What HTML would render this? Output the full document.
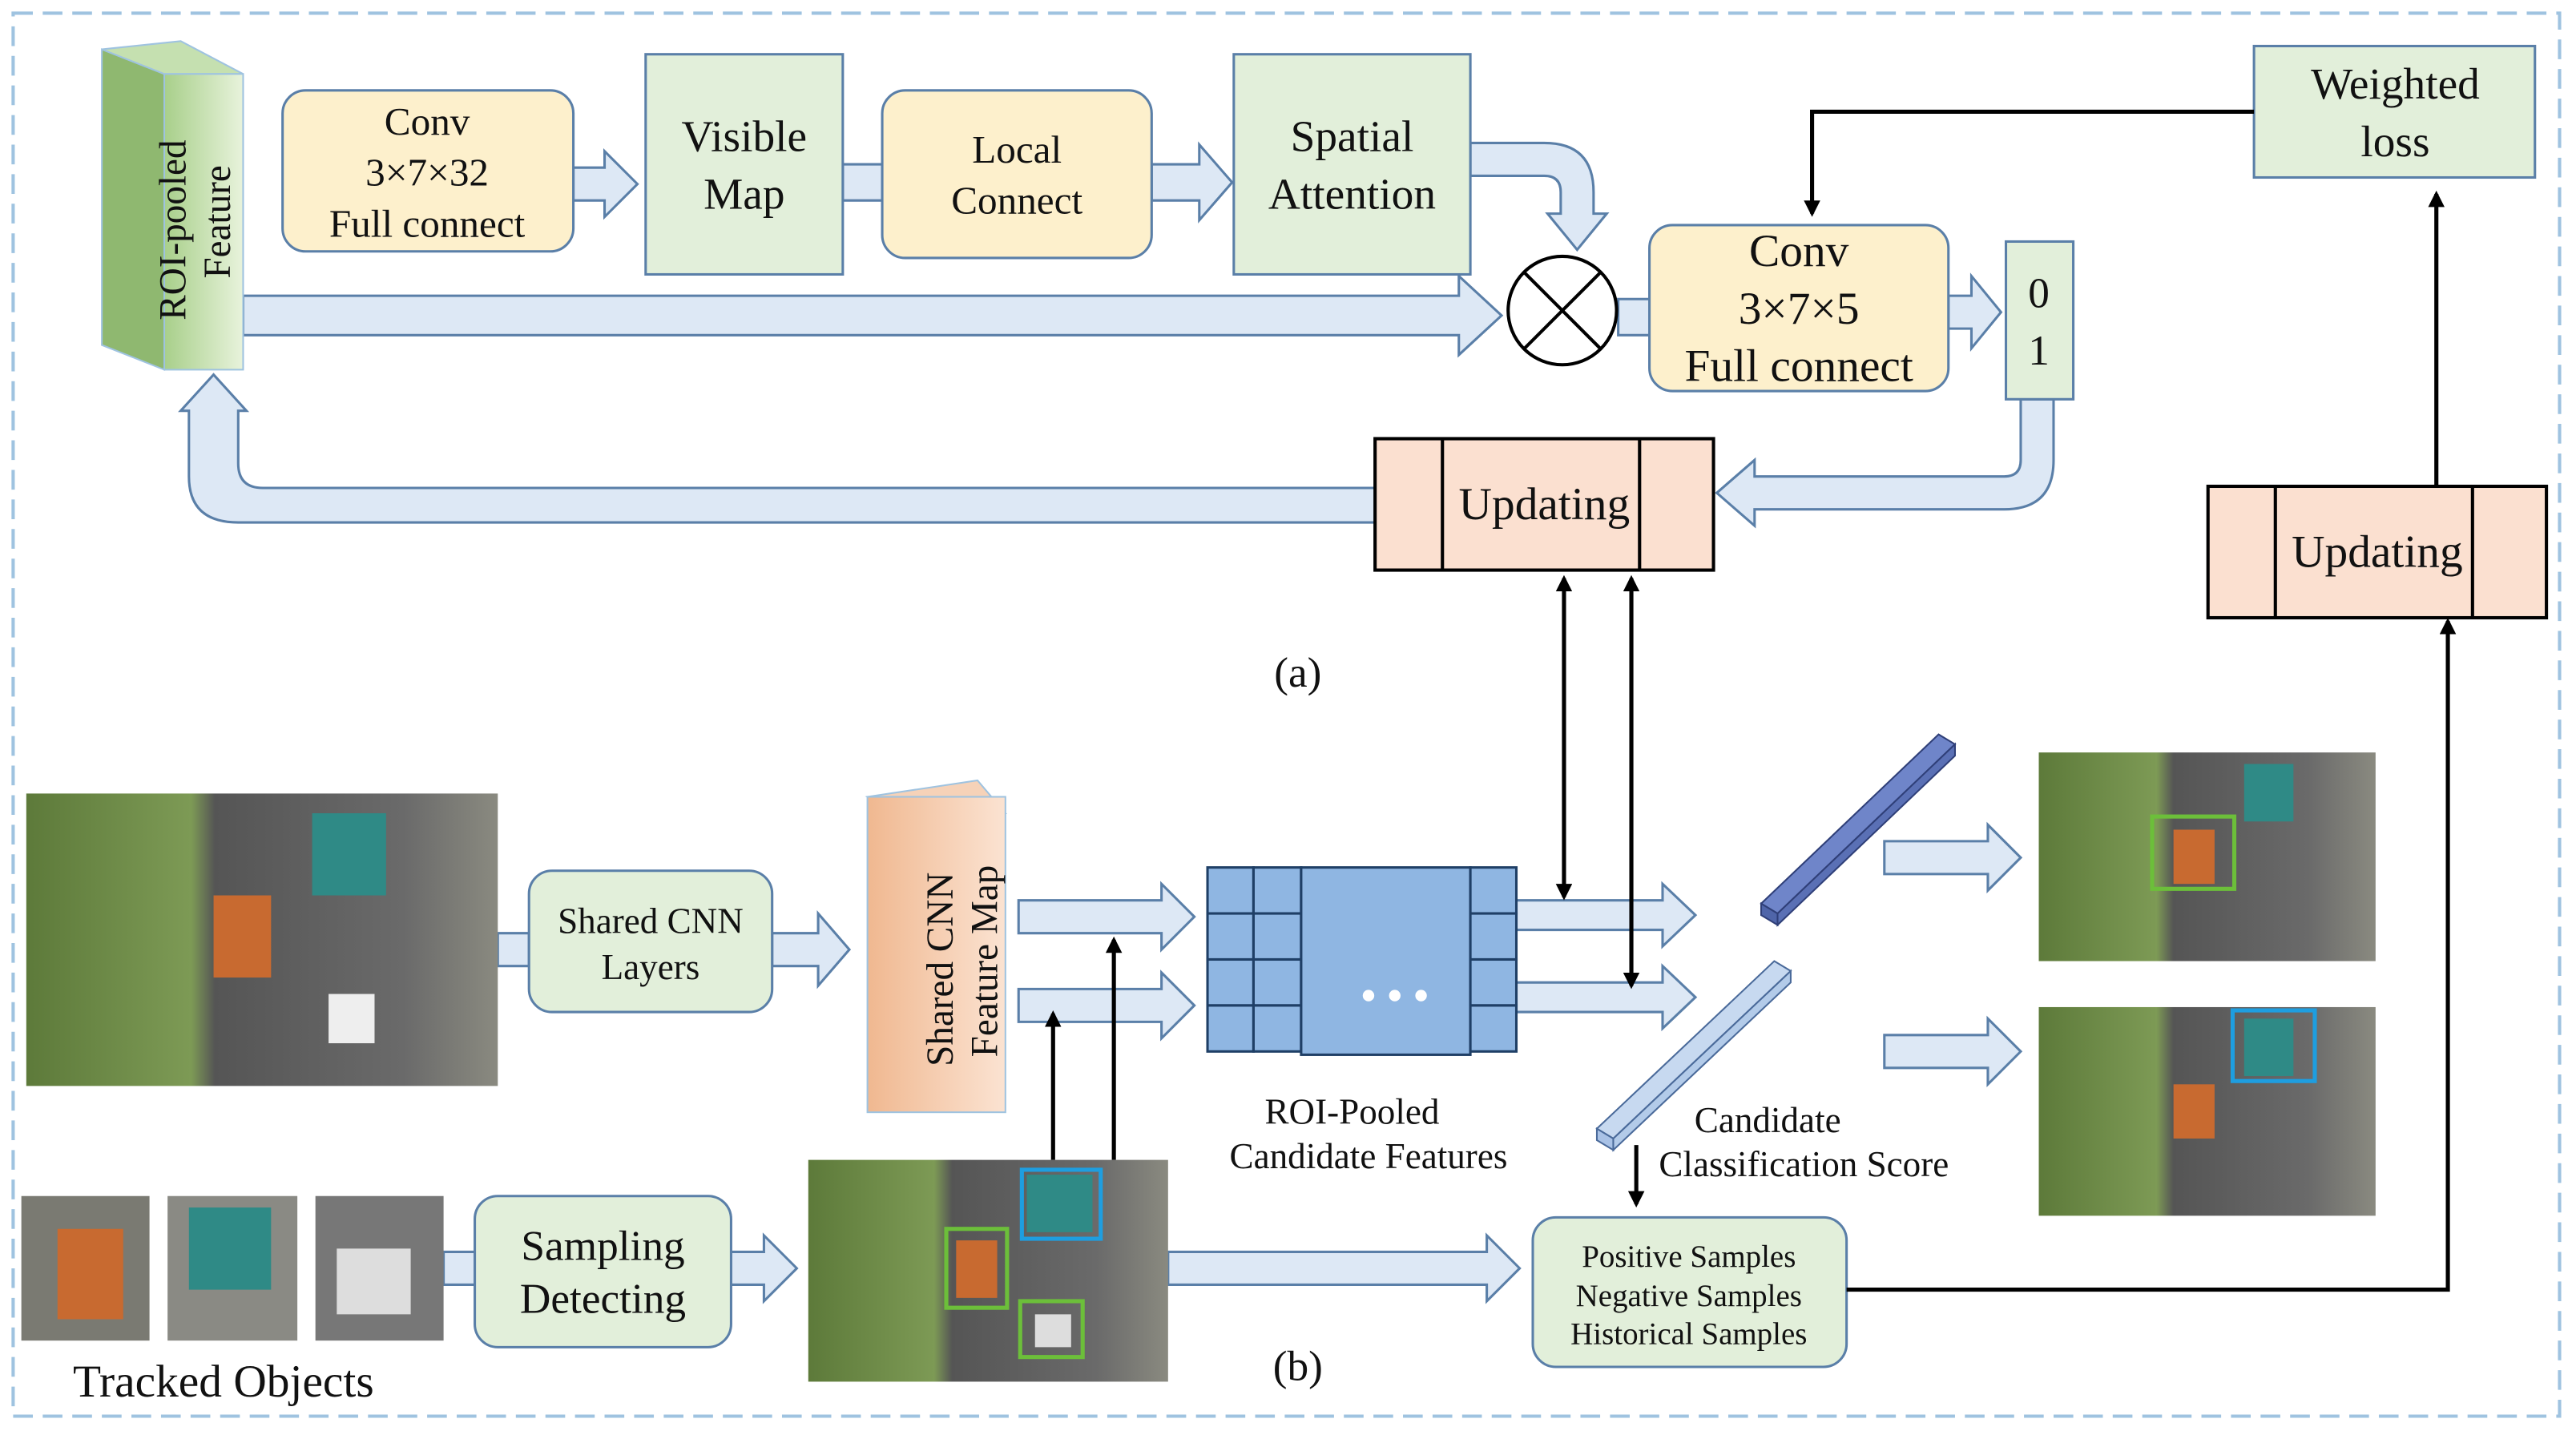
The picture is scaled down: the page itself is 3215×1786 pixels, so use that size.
<!DOCTYPE html>
<html><head><meta charset="utf-8"><style>
html,body{margin:0;padding:0;background:#fff;}
svg{display:block;}
text{font-family:"Liberation Serif",serif;fill:#111;}
</style></head><body>
<svg width="3215" height="1786" viewBox="0 0 1568 871" xmlns="http://www.w3.org/2000/svg">
<defs>
<linearGradient id="rg" x1="0" x2="1"><stop offset="0" stop-color="#a8cf8a"/><stop offset="1" stop-color="#e8f3dc"/></linearGradient>
<linearGradient id="pg" x1="0" x2="1"><stop offset="0" stop-color="#f0b890"/><stop offset="1" stop-color="#fbe3d2"/></linearGradient>
<linearGradient id="ph" x1="0" x2="1"><stop offset="0" stop-color="#5d7a3a"/><stop offset="0.35" stop-color="#7d9a55"/><stop offset="0.4" stop-color="#555"/><stop offset="0.8" stop-color="#6a6a6a"/><stop offset="1" stop-color="#8a8a80"/></linearGradient>
<marker id="ah" markerWidth="10" markerHeight="10" refX="8" refY="5" orient="auto-start-reverse" markerUnits="userSpaceOnUse"><path d="M0,0 L10,5 L0,10 z" fill="#000"/></marker>
</defs>
<rect x="0" y="0" width="1568" height="871" fill="#fff"/>
<rect x="8" y="8" width="1550" height="854" fill="none" stroke="#9fc3e0" stroke-width="2" stroke-dasharray="12,6"/>

<g fill="#dde8f5" stroke="#5a7fa8" stroke-width="1.5">
<polygon points="349,102 368,102 368,92 388,112 368,132 368,122 349,122"/>
<polygon points="513,100 537,100 537,122 513,122"/>
<polygon points="701,100 730,100 730,88 750,111 730,134 730,122 701,122"/>
<polygon points="148,180 888,180 888,168 914,192 888,216 888,204 148,204"/>
<path d="M895,87 L940,87 Q970,87 970,117 L970,130 L978,130 L960,152 L942,130 L950,130 L950,117 Q950,107 940,107 L895,107 Z"/>
<polygon points="985,182 1005,182 1005,204 985,204"/>
<polygon points="1186,180 1200,180 1200,168 1218,190 1200,212 1200,200 1186,200"/>
<path d="M1230,243 L1250,243 L1250,280 Q1250,310 1220,310 L1068,310 L1068,320 L1045,300 L1068,280 L1068,290 L1220,290 Q1230,290 1230,280 Z"/>
<path d="M837,297 L160,297 Q145,297 145,282 L145,250 L150,250 L130,228 L110,250 L115,250 L115,290 Q115,318 145,318 L837,318 Z"/>
<polygon points="470,568 498,568 498,556 517,578 498,600 498,588 470,588"/>
<polygon points="620,548 707,548 707,538 727,558 707,578 707,568 620,568"/>
<polygon points="620,602 707,602 707,592 727,612 707,632 707,622 620,622"/>
<polygon points="923,548 1012,548 1012,538 1032,557 1012,576 1012,566 923,566"/>
<polygon points="923,598 1012,598 1012,588 1032,607 1012,626 1012,616 923,616"/>
<polygon points="1147,512 1210,512 1210,502 1230,522 1210,542 1210,532 1147,532"/>
<polygon points="1147,630 1210,630 1210,620 1230,640 1210,660 1210,650 1147,650"/>
<polygon points="445,762 465,762 465,752 485,772 465,792 465,782 445,782"/>
<polygon points="711,762 905,762 905,752 925,772 905,792 905,782 711,782"/>
<polygon points="303,568 322,568 322,588 303,588"/>
<polygon points="270,762 289,762 289,782 270,782"/>
</g>

<polygon points="62,30 100,45 100,225 62,210" fill="#8fb870" stroke="#9fc3e0"/>
<polygon points="62,30 110,25 148,45 100,45" fill="#c5e0b0" stroke="#9fc3e0"/>
<rect x="100" y="45" width="48" height="180" fill="url(#rg)" stroke="#9fc3e0"/>
<text transform="translate(113,140) rotate(-90)" font-size="23" text-anchor="middle">ROI-pooled</text>
<text transform="translate(140,135) rotate(-90)" font-size="23" text-anchor="middle">Feature</text>

<g stroke="#5a7fa8" stroke-width="1.5">
<rect x="172" y="55" width="177" height="98" rx="14" fill="#fdf0cc"/>
<rect x="393" y="33" width="120" height="134" fill="#e2efda"/>
<rect x="537" y="55" width="164" height="102" rx="14" fill="#fdf0cc"/>
<rect x="751" y="33" width="144" height="134" fill="#e2efda"/>
<rect x="1004" y="137" width="182" height="101" rx="14" fill="#fdf0cc"/>
<rect x="1221" y="147" width="41" height="96" fill="#e2efda"/>
<rect x="1372" y="28" width="171" height="80" fill="#e2efda"/>
<rect x="322" y="530" width="148" height="86" rx="14" fill="#e2efda"/>
<rect x="289" y="728" width="156" height="92" rx="14" fill="#e2efda"/>
<rect x="933" y="741" width="191" height="91" rx="14" fill="#e2efda"/>
</g>
<text font-size="24" text-anchor="middle"><tspan x="260" y="82">Conv</tspan><tspan x="260" y="113">3×7×32</tspan><tspan x="260" y="144">Full connect</tspan></text>
<text font-size="27" text-anchor="middle"><tspan x="453" y="92">Visible</tspan><tspan x="453" y="127">Map</tspan></text>
<text font-size="24" text-anchor="middle"><tspan x="619" y="99">Local</tspan><tspan x="619" y="130">Connect</tspan></text>
<text font-size="27" text-anchor="middle"><tspan x="823" y="92">Spatial</tspan><tspan x="823" y="127">Attention</tspan></text>
<text font-size="28" text-anchor="middle"><tspan x="1095" y="162">Conv</tspan><tspan x="1095" y="197">3×7×5</tspan><tspan x="1095" y="232">Full connect</tspan></text>
<text font-size="26" text-anchor="middle"><tspan x="1241" y="187">0</tspan><tspan x="1241" y="222">1</tspan></text>
<text font-size="27" text-anchor="middle"><tspan x="1458" y="60">Weighted</tspan><tspan x="1458" y="95">loss</tspan></text>

<circle cx="951" cy="189" r="33" fill="#fff" stroke="#000" stroke-width="2"/>
<line x1="928" y1="166" x2="974" y2="212" stroke="#000" stroke-width="2"/>
<line x1="974" y1="166" x2="928" y2="212" stroke="#000" stroke-width="2"/>

<g stroke="#000" stroke-width="2">
<rect x="837" y="267" width="206" height="80" fill="#fbe0d0"/>
<line x1="878" y1="267" x2="878" y2="347"/><line x1="998" y1="267" x2="998" y2="347"/>
<rect x="1344" y="296" width="206" height="80" fill="#fbe0d0"/>
<line x1="1385" y1="296" x2="1385" y2="376"/><line x1="1505" y1="296" x2="1505" y2="376"/>
</g>
<text x="940" y="316" font-size="28" text-anchor="middle">Updating</text>
<text x="1447" y="345" font-size="28" text-anchor="middle">Updating</text>

<g stroke="#000" stroke-width="2.5" fill="none">
<polyline points="1372,68 1103,68 1103,130" marker-end="url(#ah)"/>
<line x1="1483" y1="296" x2="1483" y2="118" marker-end="url(#ah)"/>
<line x1="952" y1="352" x2="952" y2="546" marker-start="url(#ah)" marker-end="url(#ah)"/>
<line x1="993" y1="352" x2="993" y2="600" marker-start="url(#ah)" marker-end="url(#ah)"/>
<line x1="996" y1="697" x2="996" y2="733" marker-end="url(#ah)"/>
<line x1="641" y1="706" x2="641" y2="617" marker-end="url(#ah)"/>
<line x1="678" y1="706" x2="678" y2="572" marker-end="url(#ah)"/>
<polyline points="1124,785 1490,785 1490,378" marker-end="url(#ah)"/>
</g>
<text x="790" y="418" font-size="26" text-anchor="middle">(a)</text>
<text x="790" y="840" font-size="26" text-anchor="middle">(b)</text>

<g>
<rect x="16" y="483" width="287" height="178" fill="url(#ph)"/>
<rect x="130" y="545" width="35" height="50" fill="#c86a30"/>
<rect x="190" y="495" width="45" height="50" fill="#2f8a86"/>
<rect x="200" y="605" width="28" height="30" fill="#eee"/>
<rect x="1241" y="458" width="205" height="127" fill="url(#ph)"/>
<rect x="1323" y="505" width="25" height="33" fill="#c86a30"/>
<rect x="1366" y="465" width="30" height="35" fill="#2f8a86"/>
<rect x="1310" y="497" width="50" height="44" fill="none" stroke="#6cbf3a" stroke-width="2.5"/>
<rect x="1241" y="613" width="205" height="127" fill="url(#ph)"/>
<rect x="1323" y="660" width="25" height="33" fill="#c86a30"/>
<rect x="1366" y="620" width="30" height="35" fill="#2f8a86"/>
<rect x="1359" y="615" width="50" height="43" fill="none" stroke="#1e9ee0" stroke-width="2.5"/>
<rect x="492" y="706" width="219" height="135" fill="url(#ph)"/>
<rect x="582" y="755" width="25" height="35" fill="#c86a30"/>
<rect x="625" y="715" width="40" height="35" fill="#2f8a86"/>
<rect x="630" y="800" width="22" height="20" fill="#ddd"/>
<rect x="576" y="748" width="37" height="48" fill="none" stroke="#6cbf3a" stroke-width="2.5"/>
<rect x="621" y="792" width="38" height="34" fill="none" stroke="#6cbf3a" stroke-width="2.5"/>
<rect x="622" y="712" width="48" height="42" fill="none" stroke="#1e9ee0" stroke-width="2.5"/>
<rect x="13" y="728" width="78" height="88" fill="#7a7a72"/><rect x="35" y="748" width="40" height="55" fill="#c86a30"/>
<rect x="102" y="728" width="79" height="88" fill="#8a8a84"/><rect x="115" y="735" width="50" height="50" fill="#2f8a86"/>
<rect x="192" y="728" width="78" height="88" fill="#777"/><rect x="205" y="760" width="45" height="40" fill="#ddd"/>
</g>
<text x="136" y="850" font-size="28" text-anchor="middle">Tracked Objects</text>
<text font-size="22" text-anchor="middle"><tspan x="396" y="568">Shared CNN</tspan><tspan x="396" y="596">Layers</tspan></text>
<text font-size="26" text-anchor="middle"><tspan x="367" y="767">Sampling</tspan><tspan x="367" y="799">Detecting</tspan></text>
<text font-size="19" text-anchor="middle"><tspan x="1028" y="771">Positive Samples</tspan><tspan x="1028" y="795">Negative Samples</tspan><tspan x="1028" y="818">Historical Samples</tspan></text>

<polygon points="528,485 595,475 612,495 545,495" fill="#f6d2b8" stroke="#9fc3e0"/>
<rect x="528" y="485" width="84" height="192" fill="url(#pg)" stroke="#9fc3e0"/>
<text transform="translate(580,590) rotate(-90)" font-size="23" text-anchor="middle">Shared CNN</text>
<text transform="translate(607,585) rotate(-90)" font-size="23" text-anchor="middle">Feature Map</text>

<g fill="#8fb6e2" stroke="#1f3f66" stroke-width="1.5">
<rect x="735" y="528" width="28" height="28"/><rect x="735" y="556" width="28" height="28"/><rect x="735" y="584" width="28" height="28"/><rect x="735" y="612" width="28" height="28"/>
<rect x="763" y="528" width="29" height="28"/><rect x="763" y="556" width="29" height="28"/><rect x="763" y="584" width="29" height="28"/><rect x="763" y="612" width="29" height="28"/>
<rect x="792" y="528" width="103" height="114"/>
<rect x="895" y="528" width="28" height="28"/><rect x="895" y="556" width="28" height="28"/><rect x="895" y="584" width="28" height="28"/><rect x="895" y="612" width="28" height="28"/>
</g>
<circle cx="833" cy="606" r="3.5" fill="#fff"/><circle cx="849" cy="606" r="3.5" fill="#fff"/><circle cx="865" cy="606" r="3.5" fill="#fff"/>
<text font-size="22" text-anchor="middle"><tspan x="823" y="684">ROI-Pooled</tspan><tspan x="833" y="711">Candidate Features</tspan></text>

<polygon points="1072,550 1180,447 1190,453 1082,556" fill="#6f85c9" stroke="#2f3f78"/>
<polygon points="1072,550 1082,556 1082,563 1072,557" fill="#4f65a9" stroke="#2f3f78"/>
<polygon points="1082,556 1190,453 1190,460 1082,563" fill="#5a70b5" stroke="#2f3f78"/>
<polygon points="972,687 1080,585 1090,591 982,693" fill="#c7d9f0" stroke="#4a6a9a"/>
<polygon points="972,687 982,693 982,700 972,694" fill="#a9c2e6" stroke="#4a6a9a"/>
<polygon points="982,693 1090,591 1090,598 982,700" fill="#b3cbe9" stroke="#4a6a9a"/>
<text font-size="22" text-anchor="middle"><tspan x="1076" y="689">Candidate</tspan><tspan x="1098" y="716">Classification Score</tspan></text>
</svg>
</body></html>
